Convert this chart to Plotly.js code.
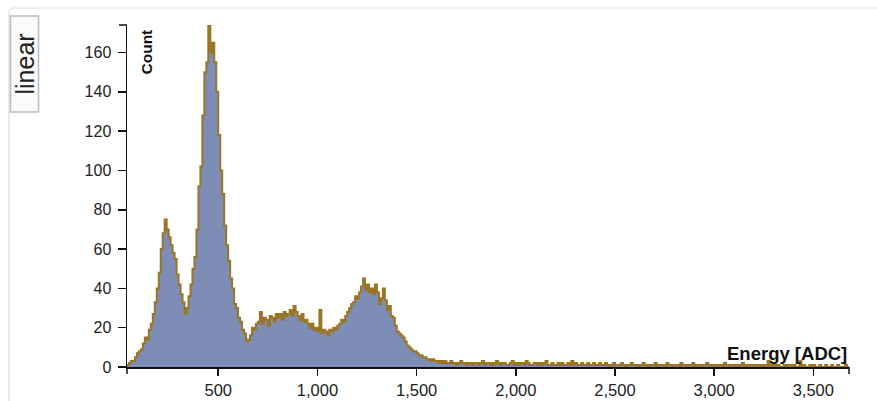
<!DOCTYPE html>
<html>
<head>
<meta charset="utf-8">
<script src="https://cdn.plot.ly/plotly-3.0.1.min.js"></script>
<style>html,body{margin:0;padding:0;background:#fff;}#chart{width:877px;height:401px;}</style>
</head>
<body>
<div id="chart"></div>
<script>
// Histogram definition (ADC bins)
const binStart = 40;
const binWidth = 10;
// Counts per bin (bins 40..3680)
const counts = [
  1,2,3,3,5,7,8,9,12,15,
  14,19,22,27,33,40,48,60,68,75,
  70,66,62,58,55,47,42,37,33,27,
  30,36,42,50,56,70,92,102,128,150,
  155,174,160,165,155,140,118,100,88,72,
  62,54,45,40,32,30,25,23,19,17,
  13,14,16,20,19,22,23,28,22,25,
  24,21,26,25,23,27,25,27,24,28,
  26,27,29,26,31,28,26,24,27,23,
  24,22,20,22,19,20,18,29,17,19,
  18,16,19,18,20,19,21,22,24,23,
  26,28,30,32,33,36,35,38,41,45,
  39,42,38,40,37,42,38,32,35,40,
  34,29,31,26,25,21,18,17,16,15,
  13,11,10,9,8,8,7,6,6,5,
  5,4,4,3,4,3,3,2,3,2,
  3,2,2,3,2,2,1,2,3,2,
  2,1,2,2,1,2,
  2,1,2,3,1,2,2,1,2,1,3,2,1,2,2,1,1,2,3,1,
  2,1,2,2,1,3,2,1,1,2,2,1,2,1,2,3,1,1,2,1,
  1,2,1,2,1,1,2,1,3,1,2,1,1,2,1,1,2,1,1,2,
  1,1,2,1,1,2,1,0,1,2,1,1,1,2,1,0,1,1,2,1,
  1,0,1,1,2,1,0,1,1,1,2,0,1,1,1,0,2,1,1,0,
  1,1,0,2,1,1,0,1,1,2,0,1,1,0,1,1,2,1,0,1,
  1,0,1,1,0,2,1,0,1,1,0,1,0,1,2,0,1,0,1,1,
  0,1,1,0,1,0,1,3,0,1,0,1,1,0,0,1,0,1,1,0,
  1,0,0,3,0,1,0,0,1,0,1,0,0,1,0,0,1,0,0,1,
  0,0,1,0,0,0,1,0
];
const yTicks = [0,20,40,60,80,100,120,140,160];
const xTicks = [500,1000,1500,2000,2500,3000,3500];
const xTitle = 'Energy [ADC]';
const yTitle = 'Count';
const scaleLabel = 'linear';

const edges = counts.map((_, i) => binStart + i * binWidth);
const xs = edges.concat([binStart + counts.length * binWidth]);
const ys = counts.concat([counts[counts.length - 1]]);
const xMin = binStart, xMax = binStart + counts.length * binWidth;
const yMax = Math.max.apply(null, counts);

// pixel helpers for decorations outside plot area
const L = 127, R = 28, T = 25, B = 34, W = 877, H = 401;
const pw = W - L - R, ph = H - T - B;
const px = v => (v - L) / pw;
const py = v => (H - B - v) / ph;

const font = 'Liberation Sans, Arial, Helvetica, sans-serif';

const trace = {
  type: 'scatter', mode: 'lines',
  x: xs, y: ys,
  line: {shape: 'hv', color: '#9a7526', width: 2},
  fill: 'tozeroy', fillcolor: '#7d8db6',
  hoverinfo: 'x+y'
};

const layout = {
  width: W, height: H,
  margin: {l: L, r: R, t: T, b: B, pad: 0},
  paper_bgcolor: '#fff', plot_bgcolor: '#fff',
  showlegend: false,
  separators: '.,',
  font: {family: font, size: 15, color: '#222'},
  xaxis: {
    range: [xMin, xMax], tickvals: xTicks, tickformat: ',d',
    showgrid: false, zeroline: false, showline: true, linecolor: '#111', linewidth: 1.5,
    ticks: 'outside', ticklen: 7, tickwidth: 1.5, tickcolor: '#111',
    ticklabelstandoff: 1,
    tickfont: {family: font, size: 16.5, color: '#222'}
  },
  yaxis: {
    range: [0, yMax], tickvals: yTicks,
    showgrid: false, zeroline: false, showline: true, linecolor: '#111', linewidth: 1.5,
    ticks: 'outside', ticklen: 8, tickwidth: 1.5, tickcolor: '#111',
    ticklabelstandoff: 3,
    tickfont: {family: font, size: 16, color: '#222'}
  },
  shapes: [
    // outer panel
    {type: 'path', xref: 'paper', yref: 'paper',
     path: `M ${px(9)},${py(401)} L ${px(9)},${py(13)} Q ${px(9)},${py(8)} ${px(14)},${py(8)} L ${px(877)},${py(8)}`,
     line: {color: '#dddddd', width: 1.2}},
    // button box
    {type: 'rect', xref: 'paper', yref: 'paper',
     x0: px(10.5), x1: px(38.5), y0: py(112), y1: py(16),
     line: {color: '#bdbdbd', width: 1.5}, fillcolor: '#fbfbfb'},
    // outer end ticks
    {type: 'line', xref: 'paper', yref: 'paper', x0: px(L - 8), x1: 0, y0: 1, y1: 1,
     line: {color: '#111', width: 1.5}},
    {type: 'line', xref: 'paper', yref: 'paper', x0: 1, x1: 1, y0: 0, y1: py(H - B + 7),
     line: {color: '#111', width: 1.5}},
    {type: 'line', xref: 'paper', yref: 'paper', x0: 0, x1: 0, y0: 0, y1: py(H - B + 7),
     line: {color: '#111', width: 1.5}}
  ],
  annotations: [
    {text: '<b>' + yTitle + '</b>', xref: 'paper', yref: 'paper',
     x: px(146), y: py(28), xanchor: 'center', yanchor: 'top', textangle: -90,
     showarrow: false, font: {family: font, size: 15.5, color: '#111'}},
    {text: '<b>' + xTitle + '</b>', xref: 'paper', yref: 'paper',
     x: px(849), y: py(353), xanchor: 'right', yanchor: 'middle',
     showarrow: false, font: {family: font, size: 18.5, color: '#111'}},
    {text: scaleLabel, xref: 'paper', yref: 'paper',
     x: px(24.5), y: py(64), xanchor: 'center', yanchor: 'middle', textangle: -90,
     showarrow: false, font: {family: font, size: 25, color: '#222'}}
  ]
};

Plotly.newPlot('chart', [trace], layout, {displayModeBar: false, staticPlot: true});
</script>
</body>
</html>
